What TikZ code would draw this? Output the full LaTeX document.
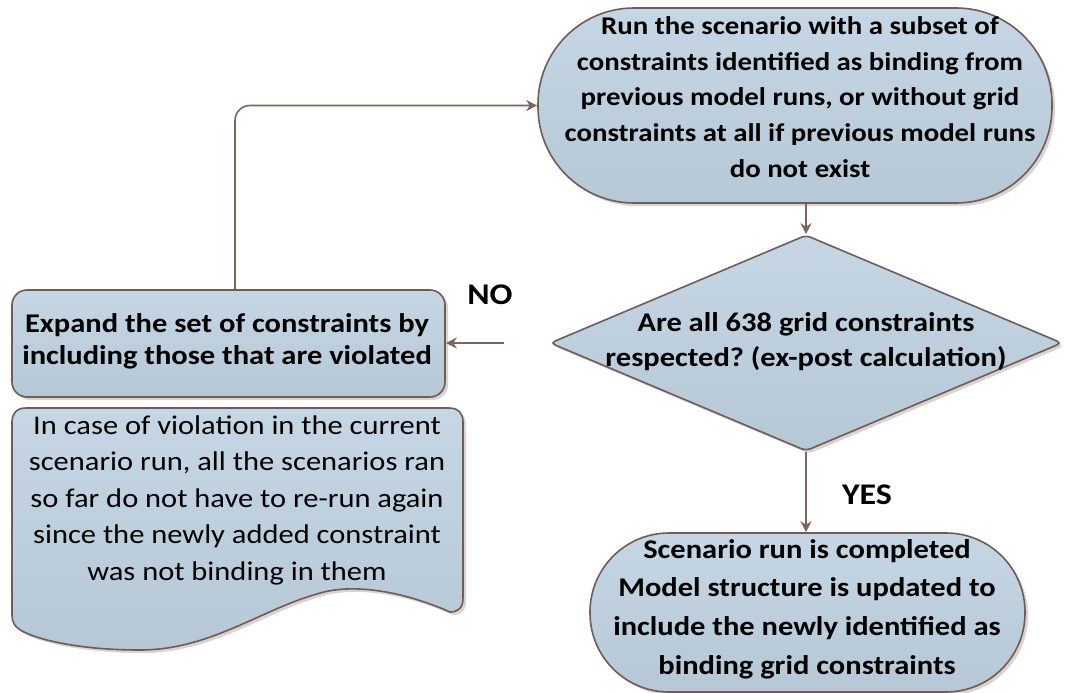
\documentclass[tikz,border=0pt]{standalone}
\usepackage{fontspec}
\setmainfont{Carlito}[FakeStretch=1.13]
\usetikzlibrary{shapes.geometric,arrows.meta,shadows,calc}
\definecolor{edgec}{HTML}{705B56}
\definecolor{arrowc}{HTML}{7A6661}
\definecolor{filltop}{HTML}{C6D6E5}
\definecolor{fillbot}{HTML}{B6C7D6}
\definecolor{shadowc}{HTML}{D9D3D1}
\frenchspacing
\begin{document}
\begin{tikzpicture}[x=1pt,y=-1pt,
  box/.style={draw=edgec, line width=1.6pt, top color=filltop, bottom color=fillbot,
    drop shadow={shadow xshift=3pt,shadow yshift=-3pt,fill=shadowc,opacity=1}, inner sep=0pt},
  txt/.style={align=center, text=black, inner sep=0pt},
  conn/.style={draw=arrowc, line width=1.6pt, -{Stealth[length=11pt,width=11pt,inset=3.5pt]}},
  lbl/.style={font=\bfseries\fontsize{30}{34}\selectfont, inner sep=0pt}
]
\useasboundingbox (0,0) rectangle (1065,693);

% top terminal
\node[box, rectangle, rounded corners=96pt, minimum width=514pt, minimum height=195pt] (term) at (795,105.5) {};
\node[txt, font=\bfseries\fontsize{25.5}{35.7}\selectfont] (termT) at (800,97)
 {Run the scenario with a subset of\\constraints identified as binding from\\previous model runs, or without grid\\constraints at all if previous model runs\\do not exist};

% decision
\node[box, diamond, rounded corners=5pt, minimum width=512pt, minimum height=216pt] (dia) at (806,343) {};
\node[txt, font=\bfseries\fontsize{27}{35}\selectfont] (diaT) at (806,342)
 {Are all 638 grid constraints\\respected? (ex-post calculation)};

% end terminal
\node[box, rectangle, rounded corners=79pt, minimum width=435pt, minimum height=159pt] (done) at (807.5,612.5) {};
\node[txt, font=\bfseries\fontsize{27}{38.7}\selectfont] (doneT) at (807,609)
 {Scenario run is completed\\Model structure is updated to\\include the newly identified as\\binding grid constraints};

% expand box
\node[box, rectangle, rounded corners=15pt, minimum width=433pt, minimum height=107pt] (exp) at (228.5,343.5) {};
\node[txt, font=\bfseries\fontsize{27}{31.7}\selectfont] (expT) at (227,341.5)
 {Expand the set of constraints by\\including those that are violated};

% document shape
\begin{scope}[shift={(3,3)}]
\fill[shadowc] (12,422) .. controls (12,414) and (16,408) .. (26,408) -- (449,408)
  .. controls (459,408) and (463,414) .. (463,422) -- (463,598)
  .. controls (463,608) and (458,612) .. (450,612)
  .. controls (400,590) and (350,583) .. (317,594)
  .. controls (260,610) and (210,650) .. (140,650)
  .. controls (80,650) and (40,640) .. (24,632)
  .. controls (14,627) and (12,622) .. (12,615) -- cycle;
\end{scope}
\path[draw=edgec, line width=1.6pt, top color=filltop, bottom color=fillbot]
  (12,422) .. controls (12,414) and (16,408) .. (26,408) -- (449,408)
  .. controls (459,408) and (463,414) .. (463,422) -- (463,598)
  .. controls (463,608) and (458,612) .. (450,612)
  .. controls (400,590) and (350,583) .. (317,594)
  .. controls (260,610) and (210,650) .. (140,650)
  .. controls (80,650) and (40,640) .. (24,632)
  .. controls (14,627) and (12,622) .. (12,615) -- cycle;
\node[txt, font=\fontsize{27}{36.5}\selectfont] (docT) at (237,500)
 {In case of violation in the current\\scenario run, all the scenarios ran\\so far do not have to re-run again\\since the newly added constraint\\was not binding in them};

% connectors
\draw[conn] (term.south -| dia.north) -- (dia.north);
\draw[conn] (dia.south) -- (dia.south |- done.north);
\coordinate (noStart) at ($(dia.west)+(-45,0)$);
\draw[conn] (noStart) -- (exp.east |- noStart);
\coordinate (loopStart) at ($(exp.north)+(6.5,0)$);
\draw[conn, rounded corners=15pt] (loopStart) |- (term.west);

% labels
\node[lbl] (no) at (490,295) {NO};
\node[lbl] (yes) at (867,495) {YES};
\end{tikzpicture}
\end{document}
